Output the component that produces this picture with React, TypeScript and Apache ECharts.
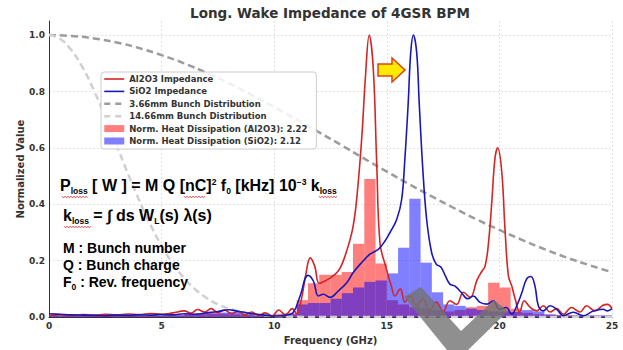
import React, { useEffect, useRef } from "react";
import * as echarts from "echarts";

const TITLE = "Long. Wake Impedance of 4GSR BPM";
const X_NAME = "Frequency (GHz)";
const Y_NAME = "Normalized Value";
const FREQ_TICK_INTERVAL = 5;
const VALUE_TICK_INTERVAL = 0.2;

const NAME_AL = "Al2O3 Impedance";
const NAME_SI = "SiO2 Impedance";
const NAME_B1 = "3.66mm Bunch Distribution";
const NAME_B2 = "14.66mm Bunch Distribution";
const HEAT_TOTAL_AL2O3 = 2.22;
const HEAT_TOTAL_SIO2 = 2.12;
const NAME_HA = `Norm. Heat Dissipation (Al2O3): ${HEAT_TOTAL_AL2O3.toFixed(2)}`;
const NAME_HS = `Norm. Heat Dissipation (SiO2): ${HEAT_TOTAL_SIO2.toFixed(2)}`;

// [frequency GHz, normalized value]
const AL2O3_IMPEDANCE: [number, number][] = [
  [0, 0.005], [0.5, 0.008], [1, 0.006], [1.5, 0.009], [2, 0.007], [2.5, 0.01], [3, 0.008],
  [3.5, 0.011], [4, 0.009], [4.5, 0.013], [5, 0.01], [5.5, 0.015], [6, 0.022], [6.3, 0.014],
  [6.6, 0.027], [6.9, 0.018], [7.2, 0.03], [7.5, 0.016], [7.8, 0.025], [8.1, 0.012], [8.4, 0.02],
  [8.7, 0.008], [9.0, 0.018], [9.3, 0.006], [9.6, 0.015], [9.9, 0.004], [10.2, 0.025], [10.5, 0.008],
  [10.8, 0.03], [11.0, 0.012], [11.2, 0.06], [11.4, 0.15], [11.6, 0.21], [11.8, 0.18], [12.0, 0.12],
  [12.3, 0.13], [12.6, 0.145], [12.9, 0.17], [13.2, 0.23], [13.5, 0.32], [13.7, 0.45], [13.9, 0.65],
  [14.05, 0.85], [14.22, 1.0], [14.4, 0.88], [14.55, 0.55], [14.7, 0.26], [14.95, 0.18], [15.2, 0.11],
  [15.36, 0.075], [15.6, 0.1], [15.8, 0.053], [16.03, 0.075], [16.33, 0.04], [16.6, 0.064],
  [16.9, 0.022], [17.2, 0.053], [17.5, 0.02], [17.8, 0.058], [18.1, 0.045], [18.4, 0.088],
  [18.7, 0.07], [19.0, 0.13], [19.2, 0.16], [19.36, 0.18], [19.5, 0.25], [19.66, 0.405], [19.8, 0.56],
  [19.92, 0.6], [20.1, 0.52], [20.25, 0.31], [20.4, 0.146], [20.55, 0.11], [20.7, 0.064], [20.9, 0.018],
  [21.1, 0.058], [21.36, 0.035], [21.66, 0.022], [21.95, 0.04], [22.25, 0.018], [22.54, 0.03],
  [22.84, 0.01], [23.2, 0.034], [23.58, 0.018], [23.87, 0.04], [24.25, 0.022], [24.6, 0.042],
  [24.8, 0.045], [25.0, 0.03],
];

const SIO2_IMPEDANCE: [number, number][] = [
  [0, 0.012], [0.5, 0.01], [1, 0.008], [1.5, 0.007], [2, 0.006], [2.5, 0.005], [3, 0.007],
  [3.5, 0.006], [4, 0.008], [4.5, 0.007], [5, 0.009], [5.5, 0.008], [6, 0.012], [6.5, 0.01],
  [7, 0.015], [7.5, 0.02], [8, 0.026], [8.3, 0.022], [8.6, 0.018], [9, 0.012], [9.5, 0.008],
  [10, 0.004], [10.5, 0.006], [10.85, 0.017], [11.15, 0.075], [11.5, 0.148], [11.74, 0.128],
  [11.96, 0.075], [12.18, 0.081], [12.48, 0.07], [12.85, 0.093], [13.22, 0.122], [13.51, 0.158],
  [13.88, 0.193], [14.25, 0.223], [14.62, 0.24], [14.92, 0.27], [15.14, 0.3], [15.44, 0.346],
  [15.66, 0.417], [15.8, 0.558], [15.95, 0.758], [16.06, 0.935], [16.18, 1.0], [16.33, 0.935],
  [16.44, 0.758], [16.6, 0.523], [16.77, 0.346], [16.99, 0.229], [17.2, 0.187], [17.4, 0.178],
  [17.6, 0.146], [17.8, 0.117], [18.03, 0.11], [18.3, 0.088], [18.6, 0.065], [18.84, 0.075],
  [19.14, 0.052], [19.44, 0.046], [19.73, 0.058], [20.0, 0.028], [20.3, 0.034], [20.55, 0.01],
  [20.77, 0.04], [21.0, 0.087], [21.2, 0.134], [21.4, 0.144], [21.58, 0.11], [21.73, 0.04],
  [21.95, 0.022], [22.25, 0.04], [22.54, 0.028], [22.84, 0.005], [23.28, 0.017], [23.73, 0.005],
  [24.17, 0.022], [24.6, 0.028], [24.8, 0.022], [25, 0.03],
];

const BUNCH_366_FREQ = [0, 1, 2, 3, 4, 5, 6, 7, 8, 9, 10, 11, 12, 13, 14, 15, 16, 17, 18, 19, 20, 21, 22, 23, 24, 25];
const BUNCH_366 = [1.0, 0.997, 0.988, 0.974, 0.954, 0.929, 0.9, 0.866, 0.829, 0.788, 0.745, 0.701, 0.655,
  0.609, 0.562, 0.516, 0.471, 0.428, 0.386, 0.346, 0.309, 0.274, 0.241, 0.211, 0.184, 0.159];

const BUNCH_1466_FREQ = [0, 0.5, 1, 1.5, 2, 2.5, 3, 3.5, 4, 4.5, 5, 5.5, 6, 6.5, 7, 7.5, 8, 8.5, 9, 9.5, 10,
  11, 12, 13, 14, 15, 16, 17, 18, 19, 20, 21, 22, 23, 24, 25];
const BUNCH_1466 = [1.0, 0.986, 0.946, 0.884, 0.803, 0.709, 0.61, 0.51, 0.415, 0.328, 0.253, 0.19, 0.138,
  0.098, 0.068, 0.045, 0.03, 0.019, 0.012, 0.007, 0.004, 0.001, 0, 0, 0, 0, 0, 0, 0, 0, 0, 0, 0, 0, 0, 0];

const BIN_WIDTH = 0.5;
const BIN_STARTS = [0, 0.5, 1, 1.5, 2, 2.5, 3, 3.5, 4, 4.5, 5, 5.5, 6, 6.5, 7, 7.5, 8, 8.5, 9, 9.5,
  10, 10.5, 11, 11.5, 12, 12.5, 13, 13.5, 14, 14.5, 15, 15.5, 16, 16.5, 17, 17.5, 18, 18.5, 19, 19.5,
  20, 20.5, 21, 21.5, 22, 22.5, 23, 23.5, 24, 24.5];
const HEAT_AL2O3 = [0.004, 0.004, 0.004, 0.004, 0.004, 0.004, 0.004, 0.004, 0.005, 0.005, 0.006, 0.006,
  0.012, 0.014, 0.015, 0.012, 0.01, 0.009, 0.008, 0.008, 0.012, 0.015,
  0.06, 0.12, 0.15, 0.15, 0.16, 0.26, 0.49, 0.19, 0.06, 0.045, 0.035, 0.03, 0.025, 0.02, 0.025, 0.035,
  0.04, 0.122, 0.105, 0.03, 0.015, 0.01, 0.008, 0.006, 0.006, 0.005, 0.005, 0.005];
const HEAT_SIO2 = [0.006, 0.006, 0.006, 0.006, 0.006, 0.006, 0.006, 0.006, 0.006, 0.006, 0.007, 0.007,
  0.008, 0.01, 0.012, 0.016, 0.018, 0.014, 0.01, 0.007, 0.006, 0.01,
  0.045, 0.05, 0.05, 0.065, 0.085, 0.105, 0.125, 0.13, 0.155, 0.246, 0.42, 0.193, 0.088, 0.045, 0.04,
  0.03, 0.025, 0.02, 0.02, 0.018, 0.025, 0.02, 0.01, 0.008, 0.006, 0.006, 0.006, 0.006];

const SANS = "DejaVu Sans";
const ARIAL = "Liberation Sans";

// red wavy "spell-check" underline decoration
function wavy(x0: number, x1: number, y: number) {
  const pts: number[][] = [];
  let up = true;
  for (let x = x0; x <= x1; x += 1.5) {
    pts.push([x, up ? y - 0.9 : y + 0.9]);
    up = !up;
  }
  return { type: "polyline", z: 11, shape: { points: pts }, style: { stroke: "#e03030", lineWidth: 0.8, fill: null } };
}

function App() {
  const ref = useRef<HTMLDivElement>(null);

  useEffect(() => {
    if (!ref.current) return;
    const chart = echarts.init(ref.current, undefined, { renderer: "svg" });

    const heatData = (vals: number[]) => BIN_STARTS.map((s, i) => [s, s + BIN_WIDTH, vals[i]]);
    const renderBar = (params: any, api: any) => {
      const p0 = api.coord([api.value(0), api.value(2)]);
      const p1 = api.coord([api.value(1), 0]);
      return {
        type: "rect",
        shape: { x: p0[0], y: p0[1], width: p1[0] - p0[0], height: p1[1] - p0[1] },
        style: api.style(),
      };
    };

    const mainTxt = { fontSize: 16, fontWeight: "bold", fontFamily: ARIAL, color: "#111", lineHeight: 20, verticalAlign: "middle" };
    const subTxt = { fontSize: 8.5, fontWeight: "bold", fontFamily: ARIAL, color: "#111", lineHeight: 8, verticalAlign: "bottom" };
    const supTxt = { fontSize: 8.5, fontWeight: "bold", fontFamily: ARIAL, color: "#111", lineHeight: 8, verticalAlign: "top", padding: [2, 0, 0, 0] };
    const small = { fontSize: 14, fontWeight: "bold", fontFamily: ARIAL, color: "#111", lineHeight: 18, verticalAlign: "middle" };
    const smallSub = { fontSize: 8.5, fontWeight: "bold", fontFamily: ARIAL, color: "#111", lineHeight: 8, verticalAlign: "bottom" };

    const hiddenSymbol = { opacity: 0 };

    const option: any = {
      animation: false,
      backgroundColor: "#ffffff",
      grid: { left: 49, right: 11, top: 21, bottom: 32 },
      xAxis: {
        type: "value",
        min: 0,
        max: 25,
        interval: FREQ_TICK_INTERVAL,
        name: X_NAME,
        nameLocation: "middle",
        nameGap: 15,
        nameTextStyle: { fontFamily: SANS, fontWeight: "bold", fontSize: 10, color: "#333" },
        axisLine: { show: true, lineStyle: { color: "#333", width: 1 } },
        axisTick: { show: false },
        axisLabel: { fontFamily: SANS, fontWeight: "bold", fontSize: 9, color: "#333", margin: 4 },
        splitLine: { show: true, lineStyle: { color: "#e2e2e2", type: [2, 2] } },
      },
      yAxis: {
        type: "value",
        min: 0,
        max: 1.05,
        interval: VALUE_TICK_INTERVAL,
        name: Y_NAME,
        nameLocation: "middle",
        nameGap: 24,
        nameMoveOverlap: false,
        nameTextStyle: { fontFamily: SANS, fontWeight: "bold", fontSize: 10, color: "#333" },
        axisLine: { show: true, lineStyle: { color: "#333", width: 1 } },
        axisTick: { show: false },
        axisLabel: {
          fontFamily: SANS, fontWeight: "bold", fontSize: 9, color: "#333", margin: 4,
          formatter: (v: number) => {
            const k = v / VALUE_TICK_INTERVAL;
            return Math.abs(k - Math.round(k)) < 1e-6 ? v.toFixed(1) : "";
          },
        },
        splitLine: { show: true, showMaxLine: false, lineStyle: { color: "#e2e2e2", type: [2, 2] } },
      },
      legend: {
        orient: "vertical",
        left: 101,
        top: 72,
        padding: [2, 9, 3, 2],
        itemWidth: 20,
        itemHeight: 7,
        itemGap: 2.4,
        backgroundColor: "rgba(255,255,255,0.85)",
        borderColor: "#cccccc",
        borderWidth: 1,
        borderRadius: 3,
        textStyle: { fontFamily: SANS, fontWeight: "bold", fontSize: 8.5, color: "#333", lineHeight: 10 },
        data: [
          { name: NAME_AL, itemStyle: hiddenSymbol, lineStyle: { color: "#d42525", width: 1.6, type: "solid" } },
          { name: NAME_SI, itemStyle: hiddenSymbol, lineStyle: { color: "#1818b8", width: 1.6, type: "solid" } },
          { name: NAME_B1, itemStyle: hiddenSymbol, lineStyle: { color: "#9c9c9c", width: 2.5, type: [6, 5] } },
          { name: NAME_B2, itemStyle: hiddenSymbol, lineStyle: { color: "#d0d0d0", width: 2.5, type: [6, 5] } },
          { name: NAME_HA, icon: "rect" },
          { name: NAME_HS, icon: "rect" },
        ],
      },
      series: [
        {
          name: NAME_HA, type: "custom", renderItem: renderBar, clip: true, z: 1,
          itemStyle: { color: "rgba(255,0,0,0.5)" },
          encode: { x: [0, 1], y: 2 },
          data: heatData(HEAT_AL2O3),
        },
        {
          name: NAME_HS, type: "custom", renderItem: renderBar, clip: true, z: 2,
          itemStyle: { color: "rgba(0,0,255,0.5)" },
          encode: { x: [0, 1], y: 2 },
          data: heatData(HEAT_SIO2),
        },
        {
          name: NAME_B1, type: "line", symbol: "none", showSymbol: false, smooth: true, z: 3,
          lineStyle: { color: "#9c9c9c", width: 2.5, type: [7, 4] },
          itemStyle: { color: "#9c9c9c" },
          data: BUNCH_366_FREQ.map((f, i) => [f, BUNCH_366[i]]),
        },
        {
          name: NAME_B2, type: "line", symbol: "none", showSymbol: false, smooth: true, z: 3,
          lineStyle: { color: "#d0d0d0", width: 2.5, type: [7, 4] },
          itemStyle: { color: "#d0d0d0" },
          data: BUNCH_1466_FREQ.map((f, i) => [f, BUNCH_1466[i]]),
        },
        {
          name: NAME_AL, type: "line", symbol: "none", showSymbol: false, smooth: 0.4, z: 4,
          lineStyle: { color: "#d42525", width: 1.6 },
          itemStyle: { color: "#d42525" },
          data: AL2O3_IMPEDANCE,
        },
        {
          name: NAME_SI, type: "line", symbol: "none", showSymbol: false, smooth: 0.4, z: 5,
          lineStyle: { color: "#1818b8", width: 1.6 },
          itemStyle: { color: "#1818b8" },
          data: SIO2_IMPEDANCE,
        },
      ],
      graphic: [
        {
          type: "text", x: 330, y: 13, z: 10,
          style: { text: TITLE, fontFamily: SANS, fontWeight: "bold", fontSize: 13.5, fill: "#333", align: "center", verticalAlign: "middle" },
        },
        {
          type: "text", x: 60, y: 185, z: 10,
          style: {
            text: "{m|P}{s|loss}{m| [ W ] = M Q [nC]}{p|2}{m| f}{s|0}{m| [kHz] 10}{p|−3}{m| k}{s|loss}",
            verticalAlign: "middle",
            rich: { m: mainTxt, s: subTxt, p: supTxt },
          },
        },
        {
          type: "text", x: 63, y: 215, z: 10,
          style: {
            text: "{m|k}{s|loss}{m| = ∫ ds W}{s|L}{m|(s) λ(s)}",
            verticalAlign: "middle",
            rich: { m: mainTxt, s: subTxt },
          },
        },
        {
          type: "text", x: 63, y: 248, z: 10,
          style: { text: "{m|M : Bunch number}", verticalAlign: "middle", rich: { m: small } },
        },
        {
          type: "text", x: 63, y: 265, z: 10,
          style: { text: "{m|Q : Bunch charge}", verticalAlign: "middle", rich: { m: small } },
        },
        {
          type: "text", x: 63, y: 282, z: 10,
          style: { text: "{m|F}{s|0}{m| : Rev. frequency}", verticalAlign: "middle", rich: { m: small, s: smallSub } },
        },
        wavy(62, 88, 197),
        wavy(184, 205, 197),
        wavy(319, 337, 197),
        wavy(64, 91, 227),
        {
          type: "polygon", z: 10,
          shape: { points: [[378, 64], [392, 64], [392, 58], [405, 70], [392, 82], [392, 76], [378, 76]] },
          style: { fill: "#ffea00", stroke: "#e04010", lineWidth: 1.5 },
        },
        {
          type: "polygon", z: 10,
          shape: { points: [[404, 297], [421, 287], [461, 331], [494, 300], [508, 311], [468, 350], [447, 350]] },
          style: { fill: "rgba(115,115,115,0.8)" },
        },
      ],
    };

    chart.setOption(option);
    return () => chart.dispose();
  }, []);

  return <div ref={ref} style={{ position: "fixed", left: 0, top: 0, width: 623, height: 350 }} />;
}

export default App;
